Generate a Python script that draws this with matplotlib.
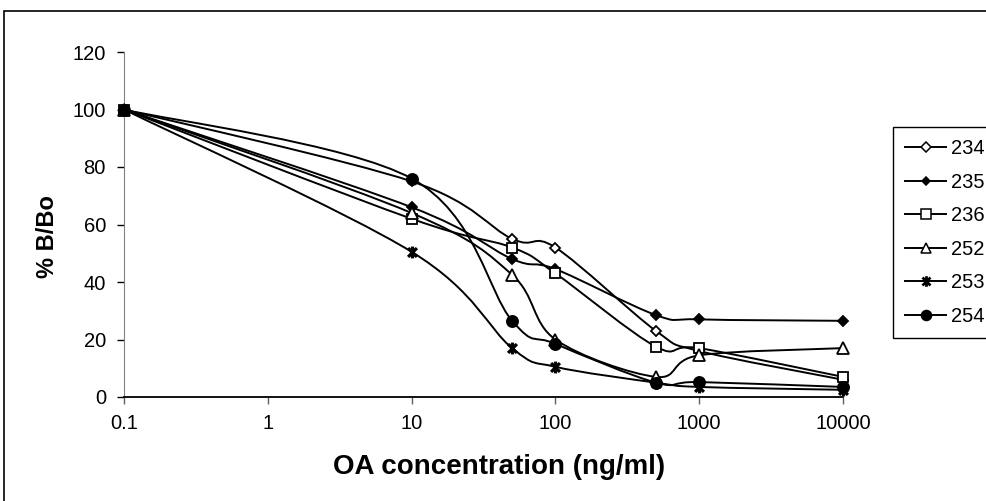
import numpy as np
import matplotlib
matplotlib.use('Agg')
import matplotlib.pyplot as plt
from matplotlib.path import Path
from matplotlib.patches import PathPatch, Rectangle
from matplotlib.lines import Line2D

plt.rcParams['font.family'] = ['Liberation Sans', 'DejaVu Sans']

# OA concentration (ng/ml) and % B/Bo for each antibody
conc = [0.1, 10, 50, 100, 500, 1000, 10000]
series_names = ['234', '235', '236', '252', '253', '254']
b234 = [100, 75, 55, 52, 23, 16, 6]
b235 = [100, 66, 48, 44.5, 28.5, 27, 26.5]
b236 = [100, 62, 52, 43, 17.5, 17, 7]
b252 = [100, 64, 42.5, 20, 7, 14.5, 17]
b253 = [100, 50.5, 17, 10.5, 5, 3.5, 2.5]
b254 = [100, 76, 26.5, 18.5, 5, 5.2, 3.5]

y_ticks = [0, 20, 40, 60, 80, 100, 120]
x_ticks = [0.1, 1, 10, 100, 1000, 10000]
x_tick_labels = ['0.1', '1', '10', '100', '1000', '10000']

# asterisk marker: an X with a vertical bar through it
star = Path([(0, -1), (0, 1), (-0.75, -0.75), (0.75, 0.75), (-0.75, 0.75), (0.75, -0.75)],
            [Path.MOVETO, Path.LINETO, Path.MOVETO, Path.LINETO, Path.MOVETO, Path.LINETO])

styles = {
    '234': dict(marker='D', ms=5.5, mfc='white', mew=1.3),
    '235': dict(marker='D', ms=5, mfc='black', mew=1.3),
    '236': dict(marker='s', ms=7.5, mfc='white', mew=1.3),
    '252': dict(marker='^', ms=8, mfc='white', mew=1.3),
    '253': dict(marker=star, ms=8.5, mfc='black', mew=2.3),
    '254': dict(marker='o', ms=8, mfc='black', mew=1.3),
}


def smooth_curve(xs, ys):
    # Bezier spline through the points, built in log-x space
    pts = np.column_stack([np.log10(xs), ys])
    verts = [pts[0]]
    codes = [Path.MOVETO]
    n = len(pts)
    for i in range(n - 1):
        p0 = pts[i - 1] if i > 0 else pts[i]
        p1 = pts[i]
        p2 = pts[i + 1]
        p3 = pts[i + 2] if i + 2 < n else pts[i + 1]
        verts += [p1 + (p2 - p0) / 6, p2 - (p3 - p1) / 6, p2]
        codes += [Path.CURVE4] * 3
    verts = np.array(verts)
    verts[:, 0] = 10 ** verts[:, 0]
    return Path(verts, codes)


fig = plt.figure(figsize=(9.86, 5.01), dpi=100)
ax = fig.add_axes([124 / 986, 1 - 397 / 501, (843 - 124) / 986, (397 - 52) / 501])
ax.set_xscale('log')
ax.set_xlim(0.1, 10000)
ax.set_ylim(0, 120)

handles = []
for name, vals in zip(series_names, [b234, b235, b236, b252, b253, b254]):
    st = styles[name]
    ax.add_patch(PathPatch(smooth_curve(conc, vals), fill=False, edgecolor='black',
                           lw=1.4, clip_on=False, zorder=2))
    ax.plot(conc, vals, ls='none', marker=st['marker'], ms=st['ms'],
            mfc=st['mfc'], mec='black', mew=st['mew'], clip_on=False, zorder=3)
    handles.append(Line2D([], [], color='black', lw=1.4, marker=st['marker'],
                          ms=st['ms'] * 0.9, mfc=st['mfc'], mec='black', mew=st['mew'] * 0.85))

ax.spines['top'].set_visible(False)
ax.spines['right'].set_visible(False)
ax.spines['left'].set_color('#808080')
ax.spines['bottom'].set_linewidth(1.3)

ax.set_yticks(y_ticks)
ax.set_xticks(x_ticks)
ax.set_xticklabels(x_tick_labels)
ax.minorticks_off()
ax.tick_params(axis='y', length=5, width=1, pad=8, labelsize=14.5)
ax.tick_params(axis='x', length=5, width=1, pad=7.5, labelsize=14.5, color='#606060')

fig.text(499 / 986, 1 - 467 / 501, 'OA concentration (ng/ml)', ha='center', va='center',
         fontsize=20, fontweight='bold')
fig.text(47 / 986, 1 - 237 / 501, '% B/Bo', ha='center', va='center', rotation=90,
         fontsize=17, fontweight='bold')

leg = fig.legend(handles, series_names, loc='upper left',
                 bbox_to_anchor=(893 / 986, 1 - 127 / 501), borderaxespad=0,
                 fontsize=14.5, handlelength=2.05, handletextpad=0.25, labelspacing=0.72,
                 borderpad=0.6, fancybox=False, framealpha=1, numpoints=1)
leg.get_frame().set_edgecolor('black')
leg.get_frame().set_linewidth(1)

# border around the whole chart area
fig.add_artist(Rectangle((4 / 986, -0.05), 1.2, 1 - 11 / 501 + 0.05, transform=fig.transFigure,
                         fill=False, edgecolor='black', lw=1.2))

fig.savefig('out.png', dpi=100)
